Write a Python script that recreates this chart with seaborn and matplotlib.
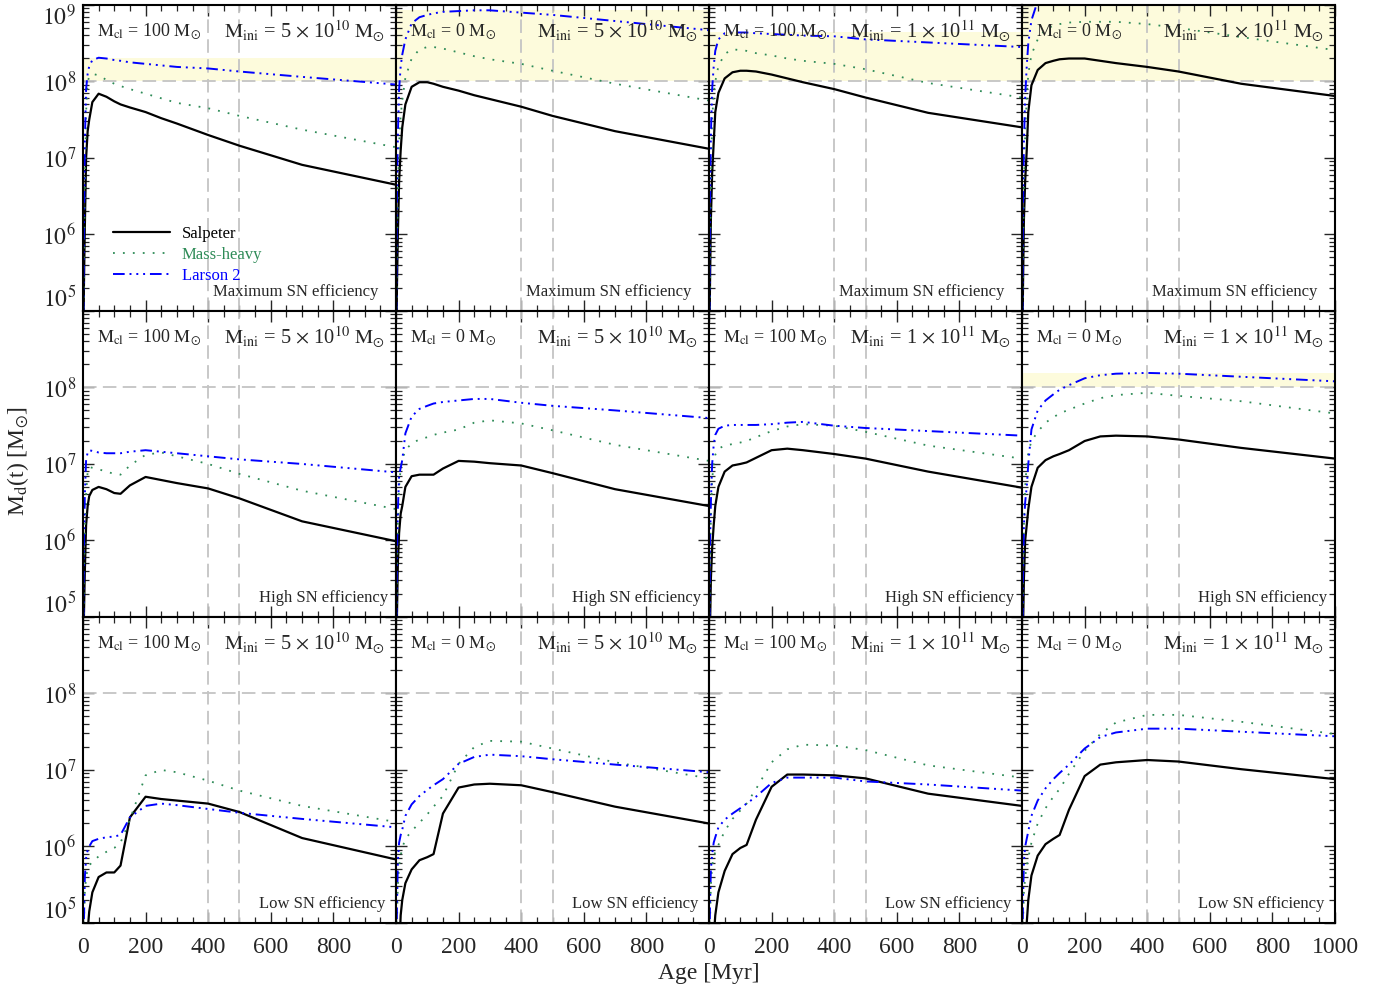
import numpy as np
import pandas as pd
import matplotlib
matplotlib.use("Agg")
import matplotlib.pyplot as plt
from matplotlib.lines import Line2D
from matplotlib.ticker import MultipleLocator, FixedLocator, NullFormatter, LogLocator
import seaborn as sns

# ---------------- data (log10 of dust mass in Msun) ----------------
ages = [0, 3, 6, 10, 15, 20, 30, 50, 75, 100, 120, 150, 200, 250, 300, 400, 500, 700, 1000]

# Row 1: Maximum SN efficiency
max_c100_5e10_sal = [4.0, 5.3, 6.1, 7.0, 7.35, 7.5, 7.73, 7.84, 7.80, 7.74, 7.70, 7.66, 7.60, 7.52, 7.45, 7.30, 7.16, 6.91, 6.65]
max_c100_5e10_mh  = [4.0, 5.6, 6.6, 7.6, 8.0, 8.06, 8.10, 8.08, 8.02, 7.97, 7.94, 7.90, 7.84, 7.78, 7.72, 7.65, 7.55, 7.37, 7.14]
max_c100_5e10_lar = [4.0, 6.0, 7.2, 7.9, 8.1, 8.2, 8.28, 8.31, 8.30, 8.28, 8.27, 8.25, 8.23, 8.21, 8.19, 8.17, 8.13, 8.06, 7.96]

max_c0_5e10_sal = [4.0, 5.3, 6.0, 6.7, 7.1, 7.4, 7.7, 7.93, 7.99, 7.99, 7.97, 7.93, 7.88, 7.82, 7.77, 7.67, 7.55, 7.35, 7.12]
max_c0_5e10_mh  = [4.0, 5.8, 6.5, 7.2, 7.55, 7.75, 8.05, 8.30, 8.42, 8.45, 8.45, 8.43, 8.38, 8.33, 8.29, 8.23, 8.14, 7.97, 7.75]
max_c0_5e10_lar = [4.0, 6.5, 7.3, 7.9, 8.2, 8.35, 8.55, 8.76, 8.84, 8.87, 8.89, 8.91, 8.92, 8.93, 8.93, 8.90, 8.87, 8.79, 8.67]

max_c100_1e11_sal = [4.0, 5.3, 6.2, 6.8, 7.2, 7.6, 7.85, 8.04, 8.12, 8.14, 8.14, 8.13, 8.09, 8.04, 7.99, 7.90, 7.79, 7.59, 7.40]
max_c100_1e11_mh  = [4.0, 5.6, 6.6, 7.5, 7.85, 8.0, 8.2, 8.36, 8.42, 8.41, 8.40, 8.37, 8.34, 8.30, 8.27, 8.23, 8.16, 7.98, 7.79]
max_c100_1e11_lar = [4.0, 6.3, 7.3, 7.9, 8.2, 8.4, 8.55, 8.63, 8.64, 8.64, 8.64, 8.63, 8.62, 8.61, 8.60, 8.59, 8.55, 8.51, 8.45]

max_c0_1e11_sal = [4.0, 5.3, 6.2, 6.7, 7.1, 7.6, 7.95, 8.15, 8.24, 8.27, 8.29, 8.30, 8.30, 8.27, 8.24, 8.19, 8.13, 7.97, 7.81]
max_c0_1e11_mh  = [4.0, 5.7, 6.6, 7.3, 7.8, 8.1, 8.35, 8.55, 8.68, 8.73, 8.75, 8.77, 8.78, 8.78, 8.78, 8.75, 8.70, 8.58, 8.41]
max_c0_1e11_lar = [4.0, 6.3, 7.2, 7.8, 8.2, 8.5, 8.8, 9.05, 9.2, 9.3, 9.33, 9.36, 9.4, 9.41, 9.41, 9.4, 9.38, 9.33, 9.25]

# Row 2: High SN efficiency
high_c100_5e10_sal = [4.0, 5.0, 5.6, 6.2, 6.45, 6.58, 6.66, 6.70, 6.67, 6.62, 6.61, 6.72, 6.83, 6.79, 6.75, 6.68, 6.55, 6.25, 5.99]
high_c100_5e10_mh  = [4.0, 5.5, 6.1, 6.6, 6.9, 6.96, 6.95, 6.93, 6.90, 6.87, 6.86, 6.98, 7.12, 7.15, 7.10, 7.00, 6.87, 6.65, 6.41]
high_c100_5e10_lar = [4.0, 5.9, 6.6, 7.05, 7.15, 7.18, 7.17, 7.15, 7.14, 7.14, 7.14, 7.16, 7.18, 7.16, 7.14, 7.10, 7.06, 7.00, 6.89]

high_c0_5e10_sal = [4.0, 5.0, 5.7, 6.1, 6.35, 6.45, 6.7, 6.84, 6.86, 6.86, 6.86, 6.94, 7.04, 7.03, 7.01, 6.98, 6.88, 6.67, 6.45]
high_c0_5e10_mh  = [4.0, 5.6, 6.2, 6.7, 6.95, 7.05, 7.18, 7.27, 7.32, 7.35, 7.38, 7.41, 7.45, 7.54, 7.57, 7.53, 7.44, 7.25, 7.04]
high_c0_5e10_lar = [4.0, 5.8, 6.4, 6.85, 6.95, 7.05, 7.4, 7.62, 7.72, 7.76, 7.79, 7.81, 7.83, 7.85, 7.85, 7.80, 7.76, 7.70, 7.60]

high_c100_1e11_sal = [4.0, 4.8, 5.5, 5.9, 6.2, 6.45, 6.7, 6.9, 6.98, 7.0, 7.02, 7.08, 7.18, 7.2, 7.18, 7.13, 7.07, 6.90, 6.69]
high_c100_1e11_mh  = [4.0, 5.6, 6.3, 6.8, 7.0, 7.12, 7.2, 7.24, 7.26, 7.28, 7.30, 7.35, 7.43, 7.49, 7.52, 7.50, 7.42, 7.24, 7.07]
high_c100_1e11_lar = [4.0, 5.9, 6.5, 7.0, 7.25, 7.38, 7.46, 7.50, 7.51, 7.51, 7.51, 7.51, 7.52, 7.54, 7.55, 7.50, 7.47, 7.43, 7.37]

high_c0_1e11_sal = [4.0, 4.8, 5.5, 6.0, 6.2, 6.41, 6.7, 6.95, 7.05, 7.1, 7.13, 7.18, 7.3, 7.36, 7.37, 7.36, 7.32, 7.21, 7.07]
high_c0_1e11_mh  = [4.0, 5.5, 6.2, 6.7, 7.0, 7.15, 7.3, 7.42, 7.54, 7.61, 7.66, 7.71, 7.79, 7.86, 7.90, 7.93, 7.89, 7.82, 7.66]
high_c0_1e11_lar = [4.0, 5.5, 6.2, 6.5, 6.7, 7.0, 7.45, 7.7, 7.83, 7.91, 7.97, 8.03, 8.12, 8.16, 8.18, 8.19, 8.18, 8.14, 8.08]

# Row 3: Low SN efficiency
low_c100_5e10_sal = [3.0, 3.5, 4.0, 4.5, 4.9, 5.15, 5.4, 5.6, 5.66, 5.66, 5.75, 6.38, 6.65, 6.62, 6.60, 6.56, 6.45, 6.11, 5.83]
low_c100_5e10_mh  = [4.0, 5.0, 5.4, 5.6, 5.7, 5.75, 5.8, 5.87, 5.93, 5.98, 6.05, 6.35, 6.93, 7.0, 6.97, 6.86, 6.73, 6.53, 6.32]
low_c100_5e10_lar = [4.0, 5.0, 5.6, 5.85, 5.95, 6.0, 6.07, 6.1, 6.12, 6.13, 6.15, 6.38, 6.53, 6.56, 6.54, 6.49, 6.44, 6.36, 6.25]

low_c0_5e10_sal = [3.0, 3.5, 4.0, 4.6, 5.1, 5.3, 5.52, 5.7, 5.82, 5.86, 5.9, 6.43, 6.77, 6.81, 6.82, 6.80, 6.71, 6.52, 6.30]
low_c0_5e10_mh  = [4.0, 5.0, 5.5, 5.75, 5.88, 5.98, 6.1, 6.2, 6.31, 6.42, 6.52, 6.66, 7.08, 7.3, 7.38, 7.37, 7.28, 7.10, 6.89]
low_c0_5e10_lar = [4.0, 5.2, 5.8, 6.05, 6.15, 6.22, 6.4, 6.55, 6.66, 6.74, 6.8, 6.88, 7.08, 7.17, 7.2, 7.18, 7.14, 7.07, 6.97]

low_c100_1e11_sal = [3.0, 3.5, 4.0, 4.4, 4.8, 5.1, 5.4, 5.68, 5.9, 5.98, 6.02, 6.35, 6.78, 6.94, 6.94, 6.93, 6.89, 6.69, 6.53]
low_c100_1e11_mh  = [4.0, 5.0, 5.5, 5.75, 5.85, 5.93, 6.02, 6.2, 6.36, 6.47, 6.56, 6.75, 7.1, 7.27, 7.33, 7.32, 7.26, 7.06, 6.90]
low_c100_1e11_lar = [4.0, 5.2, 5.7, 5.9, 6.05, 6.12, 6.25, 6.35, 6.43, 6.5, 6.56, 6.65, 6.83, 6.9, 6.9, 6.9, 6.85, 6.81, 6.73]

low_c0_1e11_sal = [3.0, 3.5, 4.0, 4.6, 5.0, 5.3, 5.62, 5.88, 6.03, 6.1, 6.15, 6.48, 6.92, 7.07, 7.1, 7.13, 7.11, 7.01, 6.88]
low_c0_1e11_mh  = [4.0, 5.0, 5.4, 5.6, 5.75, 5.85, 6.05, 6.3, 6.5, 6.65, 6.75, 6.95, 7.25, 7.47, 7.62, 7.72, 7.72, 7.63, 7.47]
low_c0_1e11_lar = [4.0, 5.3, 5.8, 6.0, 6.1, 6.2, 6.4, 6.6, 6.76, 6.88, 6.96, 7.07, 7.28, 7.43, 7.49, 7.54, 7.54, 7.50, 7.44]

series_names = ["Salpeter", "Mass-heavy", "Larson 2"]
row_labels = ["Maximum SN efficiency", "High SN efficiency", "Low SN efficiency"]
mcl_labels = [r"$\mathrm{M_{cl}}$ = 100 $\mathrm{M}_{\odot}$", r"$\mathrm{M_{cl}}$ = 0 $\mathrm{M}_{\odot}$",
              r"$\mathrm{M_{cl}}$ = 100 $\mathrm{M}_{\odot}$", r"$\mathrm{M_{cl}}$ = 0 $\mathrm{M}_{\odot}$"]
mini_labels = [r"$\mathrm{M_{ini}}$ = 5 $\times$ 10$^{10}$ $\mathrm{M}_{\odot}$"] * 2 + \
              [r"$\mathrm{M_{ini}}$ = 1 $\times$ 10$^{11}$ $\mathrm{M}_{\odot}$"] * 2

grid = [
    [(max_c100_5e10_sal, max_c100_5e10_mh, max_c100_5e10_lar),
     (max_c0_5e10_sal, max_c0_5e10_mh, max_c0_5e10_lar),
     (max_c100_1e11_sal, max_c100_1e11_mh, max_c100_1e11_lar),
     (max_c0_1e11_sal, max_c0_1e11_mh, max_c0_1e11_lar)],
    [(high_c100_5e10_sal, high_c100_5e10_mh, high_c100_5e10_lar),
     (high_c0_5e10_sal, high_c0_5e10_mh, high_c0_5e10_lar),
     (high_c100_1e11_sal, high_c100_1e11_mh, high_c100_1e11_lar),
     (high_c0_1e11_sal, high_c0_1e11_mh, high_c0_1e11_lar)],
    [(low_c100_5e10_sal, low_c100_5e10_mh, low_c100_5e10_lar),
     (low_c0_5e10_sal, low_c0_5e10_mh, low_c0_5e10_lar),
     (low_c100_1e11_sal, low_c100_1e11_mh, low_c100_1e11_lar),
     (low_c0_1e11_sal, low_c0_1e11_mh, low_c0_1e11_lar)],
]

# ---------------- style ----------------
sns.set_theme(style="ticks")
plt.rcParams.update({
    "font.family": ["Liberation Serif", "DejaVu Serif"],
    "mathtext.fontset": "stix",
    "axes.linewidth": 1.5,
    "axes.edgecolor": "black",
    "xtick.direction": "in",
    "ytick.direction": "in",
    "xtick.top": True,
    "ytick.right": True,
})

styles = {
    "Salpeter": dict(color="black", lw=1.6, ls="-"),
    "Mass-heavy": dict(color="#2e8b57", lw=1.3, ls=(0, (1, 4.5))),
    "Larson 2": dict(color="#0000ff", lw=1.4, ls=(0, (6, 2.5, 1, 2.5, 1, 2.5, 1, 2.5))),
}
gray = "#c4c4c4"
shade = "#fdfbdc"
label_x = [0.945, 0.975, 0.965]

fig, axes = plt.subplots(3, 4, figsize=(13.92, 9.92), dpi=100)
fig.subplots_adjust(left=0.0596, right=0.9591, top=0.995, bottom=0.0696, wspace=0, hspace=0)

for r in range(3):
    for c in range(4):
        ax = axes[r, c]
        ax.set_yscale("log")
        ax.set_xlim(0, 1000)
        ax.set_ylim(1e5, 1e9)
        panel = grid[r][c]
        vmax = max(max(s) for s in panel)
        if vmax > 8.0:
            ax.axhspan(1e8, 10 ** vmax, color=shade, lw=0, zorder=0)
        ax.axhline(1e8, color=gray, lw=1.3, ls=(0, (7.5, 3.5)), zorder=1)
        ax.axvline(400, color=gray, lw=1.3, ls=(0, (7.5, 3.5)), zorder=1)
        ax.axvline(500, color=gray, lw=1.3, ls=(0, (7.5, 3.5)), zorder=1)
        for name, logvals in zip(series_names, panel):
            df = pd.DataFrame({"age": ages, "mass": np.power(10.0, logvals)})
            st = styles[name]
            sns.lineplot(data=df, x="age", y="mass", ax=ax, color=st["color"],
                         linewidth=st["lw"], linestyle=st["ls"], legend=False, zorder=3)
        ax.set_xlabel("")
        ax.set_ylabel("")
        # ticks
        ax.xaxis.set_major_locator(FixedLocator([0, 200, 400, 600, 800, 1000]))
        ax.xaxis.set_minor_locator(MultipleLocator(50))
        ax.yaxis.set_major_locator(FixedLocator([1e5, 1e6, 1e7, 1e8, 1e9]))
        ax.yaxis.set_minor_locator(LogLocator(base=10, subs=np.arange(2, 10), numticks=20))
        ax.yaxis.set_minor_formatter(NullFormatter())
        ax.tick_params(which="major", length=8, width=1.0, direction="in", top=True, right=True,
                       labelsize=17)
        ax.tick_params(axis="x", which="major", pad=10)
        ax.tick_params(axis="y", which="major", pad=5)
        ax.tick_params(which="minor", length=4, width=0.9, direction="in", top=True, right=True)
        if r == 2:
            xl = ["0", "200", "400", "600", "800", "1000" if c == 3 else ""]
            ax.set_xticklabels(xl)
        else:
            ax.set_xticklabels([])
        if c == 0:
            yl = [r"$10^{5}$", r"$10^{6}$", r"$10^{7}$", r"$10^{8}$", r"$10^{9}$" if r == 0 else ""]
            ax.set_yticklabels(yl)
            tl = ax.get_yticklabels()
            tl[0].set_verticalalignment("bottom")
            tl[-1].set_verticalalignment("top")
        else:
            ax.set_yticklabels([])
        for sp in ax.spines.values():
            sp.set_linewidth(1.5)
            sp.set_zorder(5)
        # panel texts
        ax.text(0.045, 0.915, mcl_labels[c], transform=ax.transAxes, fontsize=13,
                ha="left", va="center", zorder=6)
        ax.text(0.965, 0.915, mini_labels[c], transform=ax.transAxes, fontsize=14.7,
                ha="right", va="center", zorder=6)
        ax.text(label_x[r], 0.062, row_labels[r], transform=ax.transAxes, fontsize=12,
                ha="right", va="center", zorder=6)

# legend in first panel
handles = [Line2D([], [], color=styles[n]["color"], lw=styles[n]["lw"], ls=styles[n]["ls"]) for n in series_names]
axes[0, 0].legend(handles, series_names, loc="upper left", bbox_to_anchor=(0.097, 0.278),
                  frameon=False, fontsize=12, handlelength=3.4, handletextpad=0.7,
                  labelspacing=0.3, borderpad=0, borderaxespad=0, labelcolor="linecolor")

fig.text(0.013, 0.535, r"M$_{\rm d}$(t) [M$_{\odot}$]", rotation=90, fontsize=17,
         ha="center", va="center")
fig.text(0.509, 0.019, "Age [Myr]", fontsize=17, ha="center", va="center")

fig.savefig("out.png", dpi=100)
